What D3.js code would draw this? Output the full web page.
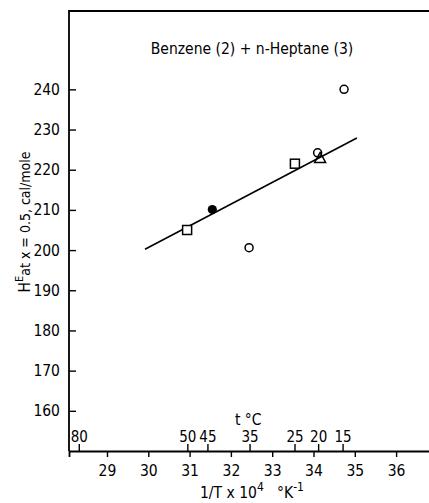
<!DOCTYPE html>
<html>
<head>
<meta charset="utf-8">
<script src="https://cdn.jsdelivr.net/npm/d3@7"></script>
<style>
  body { margin: 0; background: #fff; }
  svg text { font-family: "DejaVu Sans Condensed", "Liberation Sans Narrow", sans-serif; font-stretch: condensed; fill: #000; }
</style>
</head>
<body>
<svg id="chart" width="429" height="503"></svg>
<script>
// 1/T x 10^4 ticks and values
var xTicks = [29, 30, 31, 32, 33, 34, 35, 36];
var yTicks = [160, 170, 180, 190, 200, 210, 220, 230, 240];
var tempTicks = [80, 50, 45, 35, 25, 20, 15];

var squareX = [30.94, 33.55];
var squareY = [205, 221.5];
var openCircleX = [32.44, 34.10, 34.74];
var openCircleY = [200.6, 224.2, 240];
var filledCircleX = [31.55];
var filledCircleY = [210.1];
var triangleX = [34.16];
var triangleY = [222.8];
var fitX = [29.92, 35.05];
var fitY = [200.2, 227.9];

var margin = { top: 11, left: 69 };
var plotW = 429 - margin.left + 40, plotH = 451 - margin.top;

var x = d3.scaleLinear().domain([28.08, 29 + (plotW - 38) / 41.3]).range([0, plotW]);
var y = d3.scaleLinear().domain([150, 259.5]).range([plotH, 0]);

var svg = d3.select("#chart");
var g = svg.append("g").attr("transform", "translate(" + margin.left + "," + margin.top + ")");

// frame: left and top
g.append("path")
  .attr("d", "M0," + plotH + "V0H" + plotW)
  .attr("fill", "none").attr("stroke", "#000").attr("stroke-width", 1.8);

// y axis, ticks pointing inward
var yAxis = g.append("g").call(d3.axisRight(y).tickValues(yTicks).tickSize(7).tickFormat(d3.format("d")));
yAxis.select(".domain").remove();
yAxis.selectAll("line").attr("stroke-width", 1.4);
yAxis.selectAll("text").attr("x", -9).style("text-anchor", "end").style("font-size", "15.5px");

// bottom axis 1/T
var xAxis = g.append("g").attr("transform", "translate(0," + plotH + ")")
  .call(d3.axisBottom(x).tickValues(xTicks).tickSize(6).tickFormat(d3.format("d")));
xAxis.select(".domain").attr("stroke-width", 1.8);
xAxis.selectAll("line").attr("stroke-width", 1.4);
xAxis.selectAll("text").attr("y", 14).style("font-size", "15.5px");

// temperature ticks on top of the same line
function invT(t) { return 10000 / (t + 273.15); }
var tAxis = g.append("g").attr("transform", "translate(0," + plotH + ")")
  .call(d3.axisTop(x).tickValues(tempTicks.map(invT)).tickSize(7)
    .tickFormat(function (d, i) { return tempTicks[i]; }));
tAxis.select(".domain").remove();
tAxis.selectAll("line").attr("stroke-width", 1.4);
tAxis.selectAll("text").attr("y", -9).style("font-size", "15px");

g.append("text")
  .attr("x", x(32.42)).attr("y", plotH - 26)
  .style("text-anchor", "middle").style("font-size", "15.5px")
  .text("t \u00b0C");

// fitted line
g.append("line")
  .attr("x1", x(fitX[0])).attr("y1", y(fitY[0]))
  .attr("x2", x(fitX[1])).attr("y2", y(fitY[1]))
  .attr("stroke", "#000").attr("stroke-width", 1.6);

// points
g.selectAll(".sq").data(squareX).enter().append("rect")
  .attr("x", function (d) { return x(d) - 4.5; })
  .attr("y", function (d, i) { return y(squareY[i]) - 4.5; })
  .attr("width", 9).attr("height", 9)
  .attr("fill", "#fff").attr("stroke", "#000").attr("stroke-width", 1.5);

g.selectAll(".oc").data(openCircleX).enter().append("circle")
  .attr("cx", function (d) { return x(d); })
  .attr("cy", function (d, i) { return y(openCircleY[i]); })
  .attr("r", 4).attr("fill", "none").attr("stroke", "#000").attr("stroke-width", 1.5);

g.selectAll(".fc").data(filledCircleX).enter().append("circle")
  .attr("cx", function (d) { return x(d); })
  .attr("cy", function (d, i) { return y(filledCircleY[i]); })
  .attr("r", 4.6).attr("fill", "#000");

g.selectAll(".tr").data(triangleX).enter().append("path")
  .attr("transform", function (d, i) { return "translate(" + x(d) + "," + y(triangleY[i]) + ")"; })
  .attr("d", "M0,-6L5.5,4L-5.5,4Z")
  .attr("fill", "none").attr("stroke", "#000").attr("stroke-width", 1.5);

// title
svg.append("text")
  .attr("x", 252).attr("y", 54)
  .style("text-anchor", "middle").style("font-size", "15.5px")
  .text("Benzene (2) + n-Heptane (3)");

// y label
var yl = svg.append("text")
  .attr("transform", "translate(30,222) rotate(-90)")
  .style("text-anchor", "middle").style("font-size", "14px");
yl.append("tspan").style("font-size", "15.5px").text("H");
yl.append("tspan").attr("dy", -7).style("font-size", "11px").text("E");
yl.append("tspan").attr("dy", 7).text("at x = 0.5, cal/mole");

// x label
var xl = svg.append("text")
  .attr("x", 252).attr("y", 498)
  .style("text-anchor", "middle").style("font-size", "15.5px")
  .attr("xml:space", "preserve");
xl.append("tspan").text("1/T x 10");
xl.append("tspan").attr("dy", -7).style("font-size", "12px").text("4");
xl.append("tspan").attr("dy", 7).text("   \u00b0K");
xl.append("tspan").attr("dy", -7).style("font-size", "12px").text("-1");
</script>
</body>
</html>
